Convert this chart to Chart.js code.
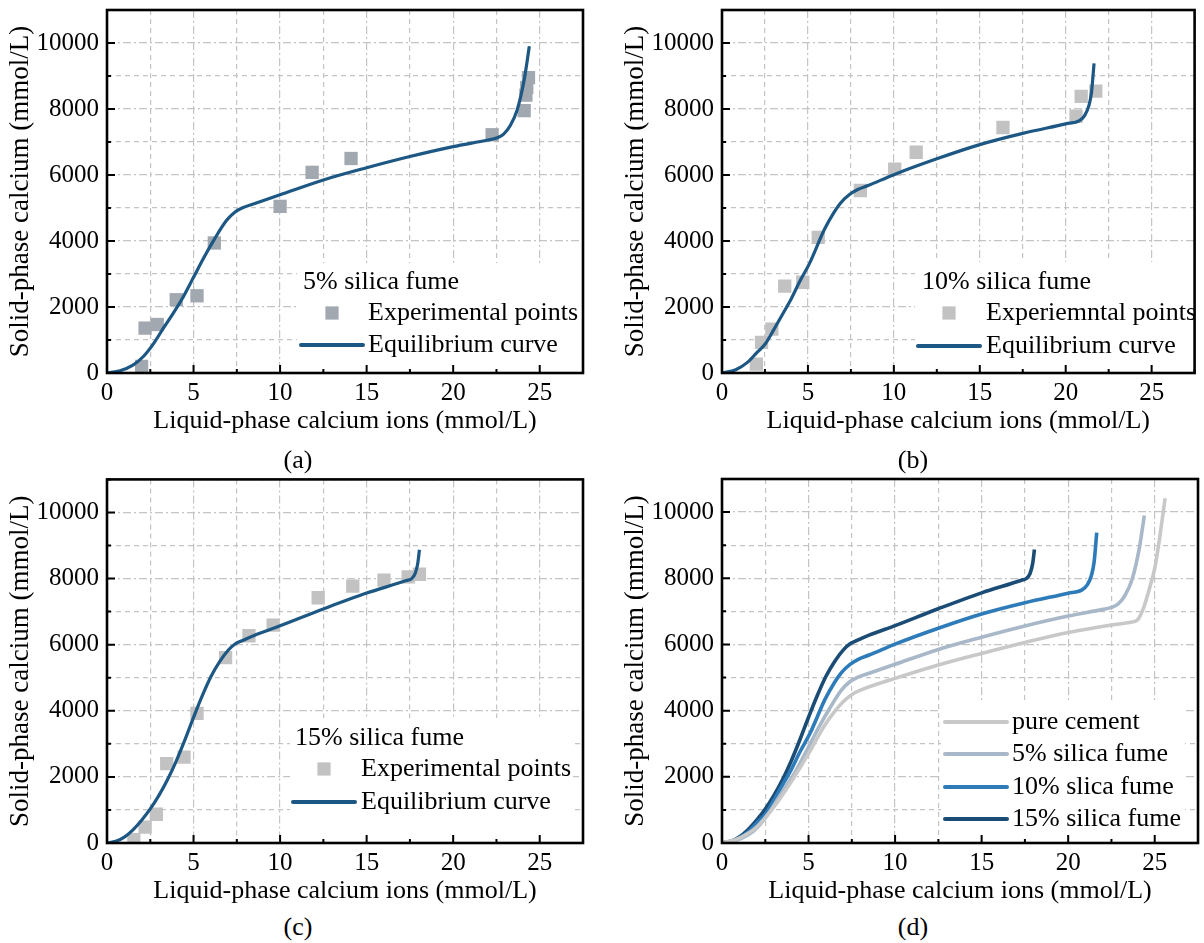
<!DOCTYPE html>
<html>
<head>
<meta charset="utf-8">
<script src="https://cdn.jsdelivr.net/npm/chart.js@4.4.0/dist/chart.umd.min.js"></script>
<style>
  body { margin: 0; background: #fff; }
  canvas { position: absolute; }
  .cap { position: absolute; font: 26px 'Liberation Serif', 'Times New Roman', serif; color: #000; transform: translate(-50%, -50%); }
</style>
</head>
<body>
<canvas id="chartA" width="600" height="440" style="left:0;top:0"></canvas>
<canvas id="chartB" width="589" height="440" style="left:615px;top:0"></canvas>
<canvas id="chartC" width="600" height="440" style="left:0;top:470px"></canvas>
<canvas id="chartD" width="589" height="440" style="left:615px;top:470px"></canvas>
<div class="cap" style="left:298px;top:460px">(a)</div>
<div class="cap" style="left:913px;top:460px">(b)</div>
<div class="cap" style="left:298px;top:927px">(c)</div>
<div class="cap" style="left:913px;top:927px">(d)</div>
<script>
// --- tick labels ---
const xTickLabels = [0, 5, 10, 15, 20, 25];
const yTickLabels = [0, 2000, 4000, 6000, 8000, 10000];

// --- equilibrium curves ---
const pureX = [0, 1, 2, 3, 4, 5, 6, 7, 7.6, 8, 10, 12.5, 15, 17.5, 20, 22.5, 23.6, 24.0, 24.35, 24.7, 25.0, 25.25, 25.6];
const pureY = [0, 150, 480, 1090, 1850, 2700, 3610, 4270, 4520, 4620, 4975, 5380, 5730, 6060, 6360, 6590, 6670, 6740, 7100, 7700, 8300, 9100, 10420];

const sf5X = [0, 0.75, 1.5, 2.1, 2.7, 3.25, 3.85, 4.3, 5, 5.6, 6.2, 6.9, 7.4, 7.8, 8.5, 10, 12.5, 15, 17.5, 20, 22, 22.5, 22.9, 23.3, 23.7, 24.1, 24.4];
const sf5Y = [0, 70, 240, 500, 900, 1350, 1830, 2210, 2900, 3500, 4050, 4620, 4880, 5000, 5130, 5400, 5850, 6220, 6560, 6860, 7060, 7120, 7230, 7500, 7980, 8880, 9900];

const sf10X = [0, 0.8, 1.5, 2, 2.5, 3, 3.5, 4, 4.5, 5.1, 5.95, 6.5, 6.9, 7.4, 7.9, 8.5, 10, 12.5, 15, 17.5, 20, 20.8, 21.1, 21.35, 21.5, 21.65];
const sf10Y = [0, 100, 330, 600, 870, 1300, 1760, 2220, 2750, 3330, 4340, 4850, 5150, 5400, 5560, 5680, 6010, 6490, 6920, 7260, 7550, 7650, 7800, 8100, 8500, 9380];

const sf15X = [0, 0.5, 1, 1.5, 2, 2.5, 3, 3.5, 4, 4.5, 5, 5.5, 6, 6.5, 7, 7.4, 7.8, 8.5, 10, 12.5, 15, 17.3, 17.6, 17.8, 17.95, 18.05];
const sf15Y = [0, 50, 180, 400, 690, 1030, 1440, 1920, 2480, 3120, 3800, 4450, 5030, 5480, 5830, 6020, 6120, 6280, 6570, 7080, 7560, 7940, 8000, 8150, 8450, 8870];

// --- experimental points ---
const exp5X = [2.0, 2.2, 2.9, 4.0, 5.2, 6.2, 10.0, 11.85, 14.1, 22.25, 24.1, 24.2, 24.25, 24.35];
const exp5Y = [200, 1360, 1470, 2220, 2340, 3940, 5050, 6080, 6500, 7220, 7950, 8420, 8650, 8950];

const exp10X = [2.0, 2.3, 2.9, 3.65, 4.7, 5.6, 8.05, 10.05, 11.3, 16.35, 20.6, 20.9, 21.75];
const exp10Y = [270, 930, 1330, 2630, 2750, 4110, 5530, 6180, 6690, 7440, 7780, 8380, 8540];

const exp15X = [1.55, 2.2, 2.85, 3.45, 4.45, 5.2, 6.85, 8.2, 9.6, 12.2, 14.2, 16.0, 17.4, 18.05];
const exp15Y = [100, 480, 870, 2400, 2600, 3920, 5610, 6270, 6590, 7420, 7770, 7950, 8050, 8130];

const FONT = "'Liberation Serif', 'Times New Roman', serif";
const toPts = (xs, ys) => xs.map((x, i) => ({ x: x, y: ys[i] }));

const curveColor = '#1d5784';
const c15 = '#1b4c76';
const c10 = '#2d7bb9';
const c5 = '#a8b8c9';
const cPure = '#c8c8c8';

function curve(label, xs, ys, color, w) {
    return { type: 'line', label: label, data: toPts(xs, ys), borderColor: color, backgroundColor: color,
        borderWidth: w, pointRadius: 0, cubicInterpolationMode: 'monotone', fill: false };
}
function points(label, xs, ys, color) {
    return { type: 'scatter', label: label, data: toPts(xs, ys), pointStyle: 'rect', pointRadius: 9.4,
        pointHoverRadius: 9.4, borderWidth: 0, backgroundColor: color, borderColor: color, showLine: false };
}

// white box legend drawn inside the plot
const boxLegend = {
    id: 'boxLegend',
    beforeDatasetsDraw(chart, args, o) {
        if (!o.box) return;
        const ctx = chart.ctx;
        ctx.save();
        ctx.fillStyle = '#fff';
        ctx.fillRect(o.box[0], o.box[1], o.box[2] - o.box[0], o.box[3] - o.box[1]);
        ctx.font = '26px ' + FONT;
        ctx.fillStyle = '#000';
        ctx.textBaseline = 'middle';
        let r = 0;
        if (o.title) {
            ctx.fillText(o.title, o.titleX, o.rowY[r++]);
        }
        o.order.forEach(i => {
            const ds = chart.data.datasets[i];
            const y = o.rowY[r++];
            if (ds.type === 'scatter') {
                ctx.fillStyle = ds.backgroundColor;
                ctx.fillRect(o.symX + o.symW / 2 - 6.6, y - 6.6, 13.2, 13.2);
            } else {
                ctx.strokeStyle = ds.borderColor;
                ctx.lineWidth = 4;
                ctx.lineCap = 'round';
                ctx.beginPath();
                ctx.moveTo(o.symX, y);
                ctx.lineTo(o.symX + o.symW, y);
                ctx.stroke();
            }
            ctx.fillStyle = '#000';
            ctx.fillText(ds.label, o.textX, y);
        });
        ctx.restore();
    }
};

// black frame with inward ticks
const frameTicks = {
    id: 'frameTicks',
    afterDraw(chart) {
        const { ctx, chartArea: a, scales: { x, y } } = chart;
        ctx.save();
        ctx.strokeStyle = '#000';
        ctx.lineWidth = 2;
        ctx.beginPath();
        x.ticks.forEach(t => {
            const px = x.getPixelForValue(t.value);
            const len = xTickLabels.includes(t.value) ? 8 : 4;
            ctx.moveTo(px, a.bottom);
            ctx.lineTo(px, a.bottom - len);
        });
        y.ticks.forEach(t => {
            const py = y.getPixelForValue(t.value);
            const len = yTickLabels.includes(t.value) ? 8 : 4;
            ctx.moveTo(a.left, py);
            ctx.lineTo(a.left + len, py);
        });
        ctx.stroke();
        ctx.lineWidth = 2.6;
        ctx.strokeRect(a.left, a.top, a.right - a.left, a.bottom - a.top);
        ctx.restore();
    }
};

const dashDot = [8, 3, 2, 3];
const dashed = [5, 4];

function makeOptions(legend, padTop, padRight) {
    const tickFont = { family: FONT, size: 25 };
    const titleFont = { family: FONT, size: 26 };
    return {
        responsive: false,
        animation: false,
        layout: { padding: { top: padTop, right: padRight, left: 0, bottom: 0 } },
        plugins: { legend: { display: false }, tooltip: { enabled: false }, boxLegend: legend },
        scales: {
            x: {
                type: 'linear', min: 0, max: 27.5,
                afterFit(s) { s.height = 67; s.paddingLeft = 0; s.paddingRight = 0; },
                ticks: { stepSize: 2.5, autoSkip: false, maxRotation: 0, padding: 5, color: '#000', font: tickFont,
                    callback: v => xTickLabels.includes(v) ? String(v) : '' },
                grid: { color: '#c4c4c4', lineWidth: 1.2, drawTicks: false },
                border: { display: false, dash: c => (xTickLabels.includes(c.tick.value) ? dashDot : dashed) },
                title: { display: true, text: 'Liquid-phase calcium ions (mmol/L)', color: '#000', font: titleFont, padding: { top: 0, bottom: 3 } }
            },
            y: {
                type: 'linear', min: 0, max: 11000,
                afterFit(s) { s.width = 107; s.paddingTop = 0; s.paddingBottom = 0; },
                ticks: { stepSize: 1000, autoSkip: false, padding: 8, color: '#000', font: tickFont,
                    callback: v => yTickLabels.includes(v) ? String(v) : '' },
                grid: { color: '#c4c4c4', lineWidth: 1.2, drawTicks: false },
                border: { display: false, dash: c => (yTickLabels.includes(c.tick.value) ? dashDot : dashed) },
                title: { display: true, text: 'Solid-phase calcium (mmol/L)', color: '#000', font: { family: FONT, size: 27 }, padding: { top: 5, bottom: 0 } }
            }
        }
    };
}

new Chart(document.getElementById('chartA'), {
    type: 'line',
    data: { datasets: [
        curve('Equilibrium curve', sf5X, sf5Y, curveColor, 3.2),
        points('Experimental points', exp5X, exp5Y, '#a1a8b0')
    ] },
    options: makeOptions({ box: [297, 263, 583, 373], title: '5% silica fume', titleX: 303, rowY: [282, 313, 345],
        order: [1, 0], symX: 301, symW: 62, textX: 368 }, 10, 17),
    plugins: [boxLegend, frameTicks]
});

new Chart(document.getElementById('chartB'), {
    type: 'line',
    data: { datasets: [
        curve('Equilibrium curve', sf10X, sf10Y, curveColor, 3.2),
        points('Experiemntal points', exp10X, exp10Y, '#c2c2c2')
    ] },
    options: makeOptions({ box: [300, 262, 583, 373], title: '10% silica fume', titleX: 307, rowY: [282, 313, 346],
        order: [1, 0], symX: 303, symW: 62, textX: 371 }, 10, 6),
    plugins: [boxLegend, frameTicks]
});

new Chart(document.getElementById('chartC'), {
    type: 'line',
    data: { datasets: [
        curve('Equilibrium curve', sf15X, sf15Y, curveColor, 3.2),
        points('Experimental points', exp15X, exp15Y, '#c2c2c2')
    ] },
    options: makeOptions({ box: [290, 248, 573, 373], title: '15% silica fume', titleX: 295, rowY: [268, 299, 332],
        order: [1, 0], symX: 293, symW: 62, textX: 361 }, 9, 17),
    plugins: [boxLegend, frameTicks]
});

new Chart(document.getElementById('chartD'), {
    type: 'line',
    data: { datasets: [
        curve('pure cement', pureX, pureY, cPure, 3.6),
        curve('5% silica fume', sf5X, sf5Y, c5, 3.6),
        curve('10% slica fume', sf10X, sf10Y, c10, 3.6),
        curve('15% silica fume', sf15X, sf15Y, c15, 3.6)
    ] },
    options: makeOptions({ box: [326, 233, 570, 373], rowY: [252, 284, 317, 349],
        order: [0, 1, 2, 3], symX: 330, symW: 62, textX: 397 }, 9, 6),
    plugins: [boxLegend, frameTicks]
});
</script>
</body>
</html>
